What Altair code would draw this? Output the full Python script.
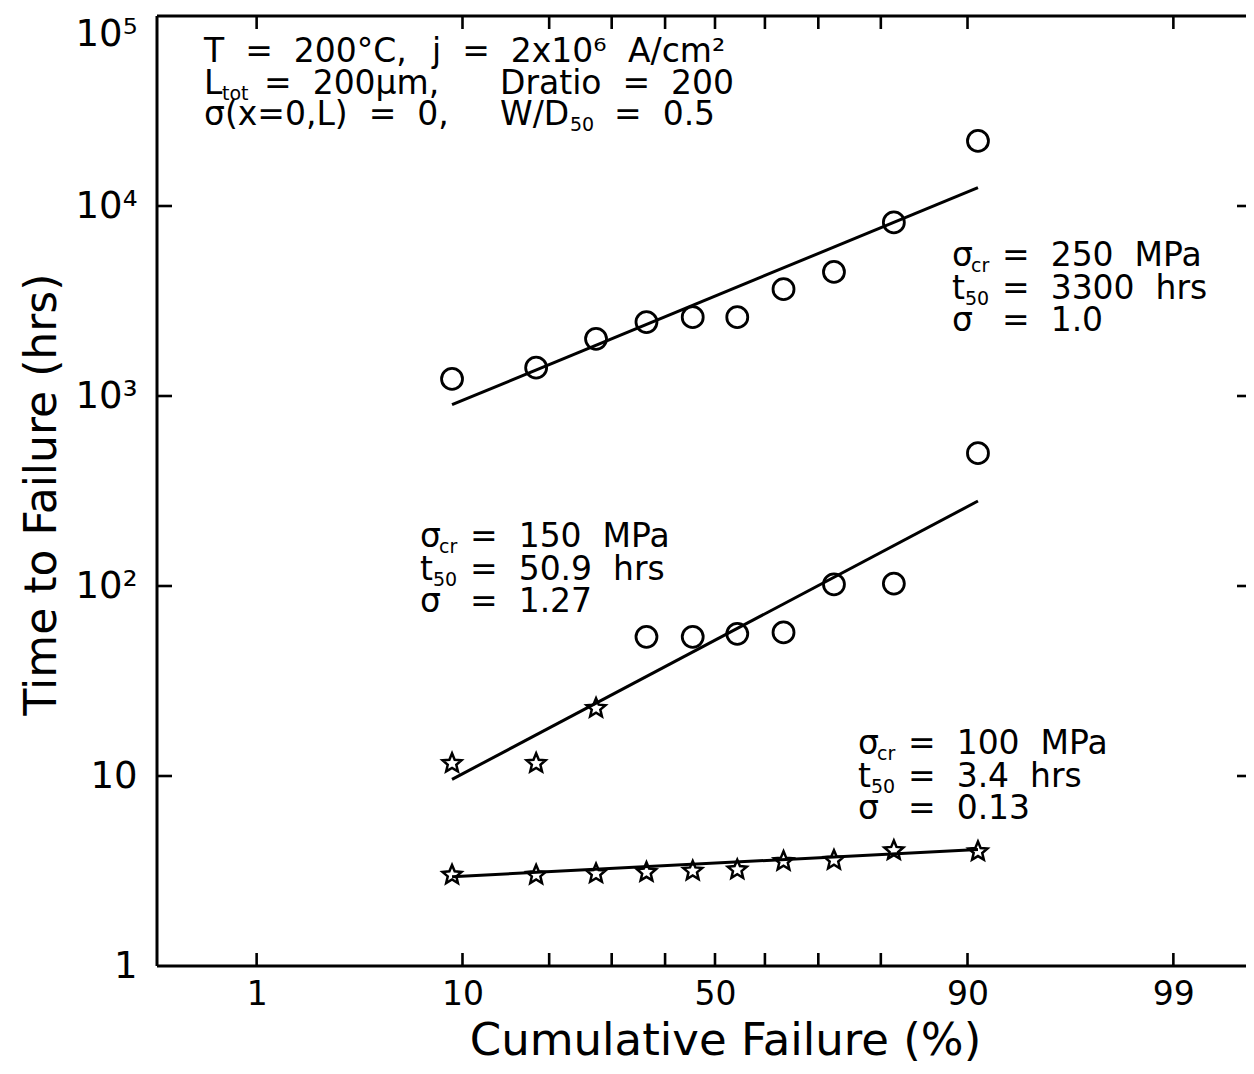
import math
import altair as alt
import pandas as pd
from statistics import NormalDist

# ---------------- data ----------------
rank_pct = [9.1, 18.2, 27.3, 36.4, 45.5, 54.5, 63.6, 72.7, 81.8, 90.9]

t_250 = [1230, 1410, 2000, 2450, 2600, 2600, 3650, 4500, 8200, 22000]
m_250 = ["circle"] * 10

t_150 = [11.8, 11.8, 23, 54, 54, 56, 57, 102, 103, 500]
m_150 = ["star", "star", "star", "circle", "circle", "circle", "circle", "circle", "circle", "circle"]

t_100 = [3.05, 3.05, 3.1, 3.15, 3.2, 3.25, 3.6, 3.65, 4.1, 4.05]
m_100 = ["star"] * 10

fit_pct = [9.1, 90.9]
fit_250 = [900, 12500]
fit_150 = [9.6, 280]
fit_100 = [2.95, 4.1]

tick_pct = [1, 10, 20, 30, 40, 50, 60, 70, 80, 90, 99]
label_pct = [1, 10, 50, 90, 99]
y_tick_vals = [10, 100, 1000, 10000]
y_label_vals = [1, 10, 100, 1000, 10000, 100000]

nd = NormalDist()


def probit(p):
    return nd.inv_cdf(p / 100.0)


# ---------------- layout ----------------
W, H = 1089, 950
ZMIN, ZMAX = -2.832, 2.695
FONT = "DejaVu Sans"
NB = "\u00a0"

# five-pointed star outline in the unit square (-1..1)
star_pts = []
for k in range(10):
    a = math.radians(-90 + 36 * k)
    r = 1.0 if k % 2 == 0 else 0.45
    star_pts.append(f"{r * math.cos(a):.3f},{r * math.sin(a) + 0.1:.3f}")
STAR = "M" + " L".join(star_pts) + " Z"

pts = []
for series, ts, ms in (("s250", t_250, m_250), ("s150", t_150, m_150), ("s100", t_100, m_100)):
    for p, t, m in zip(rank_pct, ts, ms):
        pts.append({"series": series, "z": probit(p), "t": t, "marker": m})
pts = pd.DataFrame(pts)

fits = []
for series, ts in (("s250", fit_250), ("s150", fit_150), ("s100", fit_100)):
    for p, t in zip(fit_pct, ts):
        fits.append({"series": series, "z": probit(p), "t": t})
fits = pd.DataFrame(fits)

xticks = pd.DataFrame({"z": [probit(p) for p in tick_pct]})
yticks = pd.DataFrame({"t": y_tick_vals})
one = pd.DataFrame({"a": [0]})

xscale = alt.Scale(domain=[ZMIN, ZMAX], nice=False, zero=False)
yscale = alt.Scale(type="log", domain=[1, 100000], nice=False)

label_vals = [probit(p) for p in label_pct]
x_label_expr = " : ".join(
    f"abs(datum.value - ({v:.5f})) < 0.01 ? '{p}'" for v, p in zip(label_vals, label_pct)
) + " : ''"

xaxis = alt.Axis(
    values=label_vals,
    labelExpr=x_label_expr,
    ticks=False, domain=False, grid=False, labelFlush=False,
    labelFont=FONT, labelFontSize=33, labelColor="black", labelPadding=12,
    title="Cumulative Failure (%)", titleFont=FONT, titleFontSize=45,
    titleFontWeight="normal", titleColor="black",
    titleX=568, titleY=88, titleAlign="center", titleBaseline="alphabetic",
)
yaxis = alt.Axis(
    values=y_label_vals,
    labelExpr=("datum.value < 5 ? '1\u2007' : datum.value < 50 ? '10' : "
               "datum.value < 500 ? '10\u00b2' : datum.value < 5000 ? '10\u00b3' : "
               "datum.value < 50000 ? '10\u2074' : '10\u2075'"),
    labelBaseline={"condition": {"test": "datum.value > 50000", "value": "top"}, "value": "middle"},
    ticks=False, domain=False, grid=False, labelFlush=False,
    labelFont=FONT, labelFontSize=37, labelColor="black", labelPadding=20,
    title="Time to Failure (hrs)", titleFont=FONT, titleFontSize=44,
    titleFontWeight="normal", titleColor="black",
    titleX=-115, titleY=478, titleAlign="center", titleBaseline="middle", titleAngle=-90,
)


def X(field="z"):
    return alt.X(f"{field}:Q", scale=xscale, axis=xaxis)


def Y(field="t"):
    return alt.Y(f"{field}:Q", scale=yscale, axis=yaxis)


circles = alt.Chart(pts).transform_filter("datum.marker == 'circle'").mark_point(
    shape="circle", size=440, filled=False, color="black", strokeWidth=2.8, opacity=1
).encode(x=X(), y=Y())
stars = alt.Chart(pts).transform_filter("datum.marker == 'star'").mark_point(
    shape=STAR, size=400, filled=False, color="black", strokeWidth=2.5, opacity=1
).encode(x=X(), y=Y())

lines = alt.Chart(fits).mark_line(color="black", strokeWidth=3).encode(
    x=X(), y=Y(), detail="series:N",
)

tick_style = dict(color="black", strokeWidth=2.6)
bottom_ticks = alt.Chart(xticks).mark_rule(**tick_style).encode(
    x=X(), y=alt.value(H), y2=alt.value(H - 13))
top_ticks = alt.Chart(xticks).mark_rule(**tick_style).encode(
    x=X(), y=alt.value(0), y2=alt.value(13))
left_ticks = alt.Chart(yticks).mark_rule(**tick_style).encode(
    y=Y(), x=alt.value(0), x2=alt.value(15))
right_ticks = alt.Chart(yticks).mark_rule(**tick_style).encode(
    y=Y(), x=alt.value(W), x2=alt.value(W - 9))

frame_style = dict(color="black", strokeWidth=3)
frame_left = alt.Chart(one).mark_rule(**frame_style).encode(
    x=alt.value(0), y=alt.value(0), y2=alt.value(H))
frame_bottom = alt.Chart(one).mark_rule(**frame_style).encode(
    x=alt.value(0), x2=alt.value(W), y=alt.value(H))
frame_top = alt.Chart(one).mark_rule(**frame_style).encode(
    x=alt.value(0), x2=alt.value(W), y=alt.value(0))

# ---------------- annotations (page pixel positions) ----------------
OX, OY = 157, 16
big, small = [], []


def put(text, x, y, fs=33):
    px, py = x - OX, y - OY
    row = {"text": text,
           "z": ZMIN + px / W * (ZMAX - ZMIN),
           "t": 10 ** (5 * (1 - py / H))}
    (big if fs >= 30 else small).append(row)


# block 1
put("T" + NB * 2 + "=" + NB * 2 + "200°C,", 204, 62)
put("j" + NB * 2 + "=" + NB * 2 + "2x10\u2076", 432, 62)
put("A/cm\u00b2", 628, 62)
put("L", 204, 94)
put("tot", 222, 100, 17)
put("=" + NB * 2 + "200μm,", 264, 94)
put("Dratio" + NB * 2 + "=" + NB * 2 + "200", 500, 94)
put("σ(x=0,L)" + NB * 2 + "=" + NB * 2 + "0,", 204, 125)
put("W/D", 500, 125)
put("50", 570, 131, 19)
put("=" + NB * 2 + "0.5", 614, 125)


def block(x0, y0, scr, t50, sig):
    put("σ", x0, y0)
    put("cr", x0 + 19, y0 + 6, 19)
    put("=" + NB * 2 + scr, x0 + 50, y0)
    put("t", x0, y0 + 33)
    put("50", x0 + 13, y0 + 39, 19)
    put("=" + NB * 2 + t50, x0 + 50, y0 + 33)
    put("σ", x0, y0 + 65)
    put("=" + NB * 2 + sig, x0 + 50, y0 + 65)


block(952, 266, "250" + NB * 2 + "MPa", "3300" + NB * 2 + "hrs", "1.0")
block(420, 547, "150" + NB * 2 + "MPa", "50.9" + NB * 2 + "hrs", "1.27")
block(858, 754, "100" + NB * 2 + "MPa", "3.4" + NB * 2 + "hrs", "0.13")

text_big = alt.Chart(pd.DataFrame(big)).mark_text(
    align="left", baseline="alphabetic", font=FONT, fontSize=33, color="black"
).encode(x=X(), y=Y(), text="text:N")
text_small = alt.Chart(pd.DataFrame(small)).mark_text(
    align="left", baseline="alphabetic", font=FONT, fontSize=19, color="black"
).encode(x=X(), y=Y(), text="text:N")

chart = alt.layer(
    circles, stars, lines, bottom_ticks, top_ticks, left_ticks, right_ticks,
    frame_left, frame_bottom, frame_top, text_big, text_small,
).properties(
    width=W, height=H,
    autosize=alt.AutoSizeParams(type="none"),
    padding={"left": 149, "top": 8, "right": 0, "bottom": 100},
    background="white",
).configure_view(stroke=None)

chart.save("out.html", embed_options={"renderer": "svg", "actions": False})
